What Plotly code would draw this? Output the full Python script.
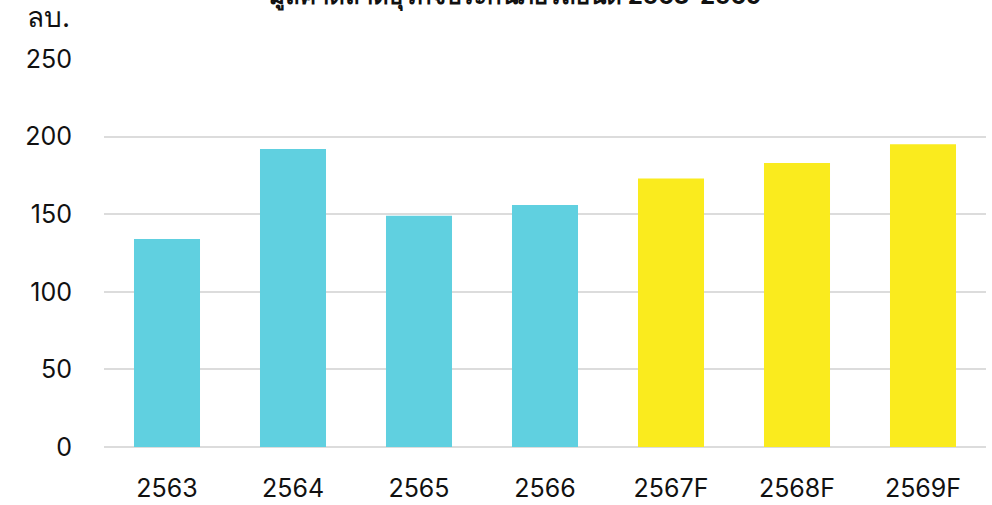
import plotly.graph_objects as go

categories = ["2563", "2564", "2565", "2566", "2567F", "2568F", "2569F"]
values = [134, 192, 149, 156, 173, 183, 195]
colors = ["#60D0E0"] * 4 + ["#FAEB1E"] * 3
y_ticks = [0, 50, 100, 150, 200, 250]

title_text = "มูลค่าตลาดธุรกิจประกันภัยรถยนต์ 2563-2569"
unit_text = "ลบ."

fig = go.Figure(
    go.Bar(x=categories, y=values, marker=dict(color=colors, line=dict(width=0)),
           hoverinfo="x+y")
)

fig.update_layout(
    width=992, height=505,
    margin=dict(l=104, r=6, t=59, b=58, autoexpand=False),
    paper_bgcolor="white", plot_bgcolor="white",
    bargap=0.476,
    showlegend=False,
    font=dict(family="Inter, 'Noto Sans', sans-serif", size=25, color="#111111"),
)
fig.update_yaxes(
    range=[0, 250], tickvals=y_ticks, showgrid=True, gridcolor="#DCDCDC", gridwidth=2,
    zeroline=True, zerolinecolor="#DCDCDC", zerolinewidth=2, automargin=False,
    showline=False, ticks="", ticklabelstandoff=31,
)
fig.update_xaxes(showgrid=False, showline=False, ticks="", ticklabelstandoff=24,
                 automargin=False)

fig.add_annotation(text=unit_text, xref="paper", yref="paper", x=-0.0895, y=1.0,
                   yshift=42, xanchor="left", yanchor="middle", showarrow=False,
                   font=dict(size=28, color="#111111"))
fig.add_annotation(text="<b>" + title_text + "</b>", xref="paper", yref="paper",
                   x=0.467, y=1.0, yshift=45, xanchor="center", yanchor="bottom",
                   showarrow=False, font=dict(size=24, color="#111111"))

fig.write_html("out.html")
